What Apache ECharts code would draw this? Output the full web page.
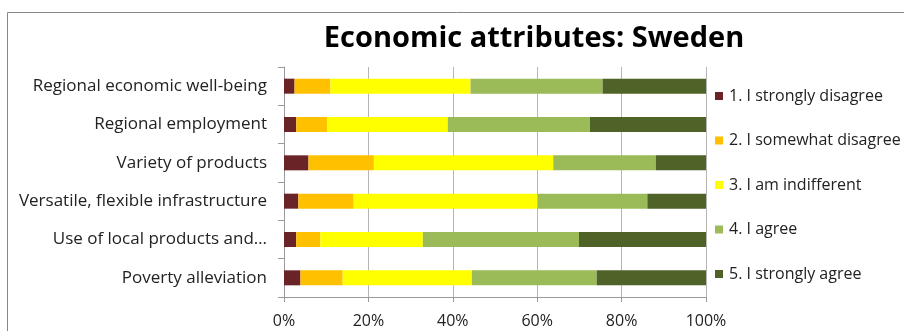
<!DOCTYPE html>
<html>
<head>
<meta charset="utf-8">
<script src="https://cdn.jsdelivr.net/npm/echarts@6/dist/echarts.min.js"></script>
<style>
  html, body { margin: 0; padding: 0; background: #fff; }
  #chart { width: 904px; height: 331px; }
</style>
</head>
<body>
<div id="chart"></div>
<script>
// Survey attributes, top to bottom
const categories = [
  'Regional economic well-being',
  'Regional employment',
  'Variety of products',
  'Versatile, flexible infrastructure',
  'Use of local products and\u2026',
  'Poverty alleviation'
];

// Share of answers (%) per attribute
const stronglyDisagree  = [2.5, 2.9, 5.8, 3.4, 2.9, 3.9];
const somewhatDisagree  = [8.5, 7.3, 15.5, 13.1, 5.7, 10.0];
const indifferent       = [33.2, 28.6, 42.5, 43.6, 24.3, 30.6];
const agree             = [31.3, 33.7, 24.3, 26.0, 37.0, 29.6];
const stronglyAgree     = [24.5, 27.5, 11.9, 13.9, 30.1, 25.9];

const seriesNames = [
  '1. I strongly disagree',
  '2. I somewhat disagree',
  '3. I am indifferent',
  '4. I agree',
  '5. I strongly agree'
];
const seriesValues = [stronglyDisagree, somewhatDisagree, indifferent, agree, stronglyAgree];
const colors = ['#6A2427', '#FFC000', '#FFFF00', '#9BBB59', '#4F6228'];

const FONT = '"Open Sans", Lato, sans-serif';

const chart = echarts.init(document.getElementById('chart'));
chart.setOption({
  animation: false,
  color: colors,
  title: {
    text: 'Economic attributes: Sweden',
    left: 529,
    textAlign: 'center',
    top: 19,
    textStyle: { fontFamily: FONT, fontSize: 29, fontWeight: 'bold', color: '#000' }
  },
  graphic: [{
    type: 'rect',
    shape: { x: 7.5, y: 12.5, width: 1000, height: 400 },
    style: { fill: 'none', stroke: '#888', lineWidth: 1 },
    silent: true
  }],
  legend: {
    orient: 'vertical',
    left: 710,
    top: 83,
    itemWidth: 8,
    itemHeight: 8,
    itemGap: 28.5,
    icon: 'rect',
    textStyle: { fontFamily: FONT, fontSize: 16, color: '#222', padding: [0, 0, 0, 1] },
    data: seriesNames
  },
  grid: { left: 284, right: 198, top: 67, height: 230 },
  xAxis: {
    type: 'value',
    min: 0,
    max: 100,
    interval: 20,
    axisLine: { show: true, lineStyle: { color: '#9a9a9a' } },
    axisTick: { show: true, length: 5, lineStyle: { color: '#9a9a9a' } },
    axisLabel: {
      formatter: '{value}%',
      fontFamily: FONT, fontSize: 16, color: '#222', margin: 16
    },
    splitLine: { show: true, lineStyle: { color: '#b5b5b5', width: 1 } }
  },
  yAxis: {
    type: 'category',
    inverse: true,
    data: categories,
    axisLine: { show: true, lineStyle: { color: '#9a9a9a' } },
    axisTick: { show: true, length: 6, lineStyle: { color: '#9a9a9a' } },
    axisLabel: { fontFamily: FONT, fontSize: 17, color: '#222', margin: 17 }
  },
  series: seriesNames.map((name, i) => ({
    name,
    type: 'bar',
    stack: 'total',
    barWidth: 15,
    data: seriesValues[i]
  }))
});
</script>
</body>
</html>
